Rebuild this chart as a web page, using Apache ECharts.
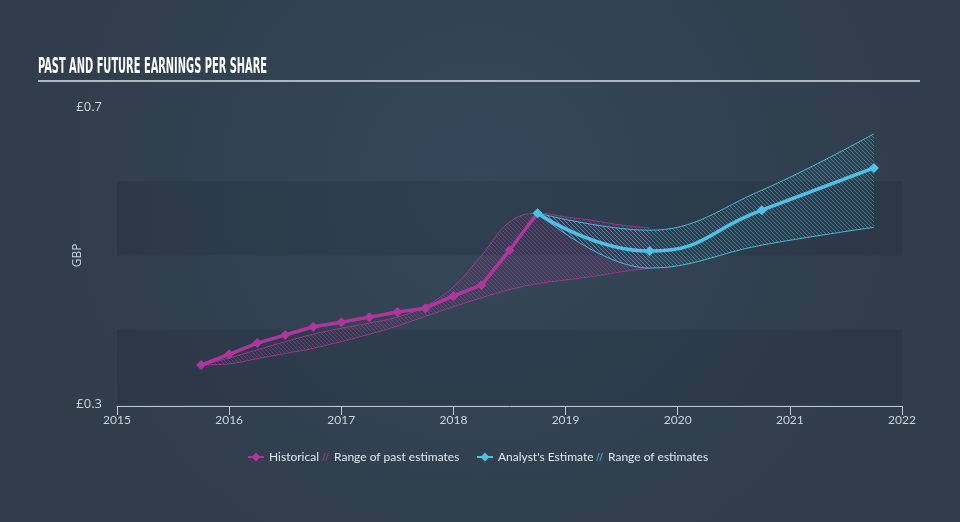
<!DOCTYPE html>
<html>
<head>
<meta charset="utf-8">
<script src="https://cdn.jsdelivr.net/npm/echarts@6/dist/echarts.min.js"></script>
<style>html,body{margin:0;padding:0;background:#334353;}#c{width:960px;height:522px;}</style>
</head>
<body>
<div id="c"></div>
<script>
// ---- data ----
const histTimes  = [2015.75, 2016.0, 2016.25, 2016.5, 2016.75, 2017.0, 2017.25, 2017.5, 2017.75, 2018.0, 2018.25, 2018.5, 2018.75];
const histValues = [0.3525, 0.367, 0.382, 0.393, 0.404, 0.410, 0.417, 0.424, 0.429, 0.4455, 0.460, 0.507, 0.557];

const pastRangeTimes = [2015.75, 2016.0, 2016.25, 2016.5, 2016.75, 2017.0, 2017.25, 2017.5, 2017.75, 2018.0, 2018.25, 2018.5, 2018.75, 2019.0, 2019.25, 2019.5, 2019.75];
const pastRangeLow   = [0.3525, 0.354, 0.361, 0.368, 0.375, 0.384, 0.394, 0.405, 0.418, 0.431, 0.443, 0.454, 0.462, 0.467, 0.472, 0.478, 0.483];
const pastRangeHigh  = [0.3525, 0.362, 0.373, 0.384, 0.394, 0.402, 0.409, 0.417, 0.432, 0.458, 0.500, 0.545, 0.557, 0.552, 0.547, 0.541, 0.537];

const estTimes  = [2018.75, 2019.75, 2020.75, 2021.75];
const estValues = [0.557, 0.506, 0.561, 0.618];
const estLow    = [0.557, 0.483, 0.514, 0.538];
const estHigh   = [0.557, 0.534, 0.588, 0.664];

const xTickYears = ['2015', '2016', '2017', '2018', '2019', '2020', '2021', '2022'];
const yTickLabels = ['£0.3', '£0.7'];

// quarterly category axis 2015.00 .. 2022.00
const quarters = [];
for (let y = 2015; y <= 2022; y++) {
  ['00', '25', '50', '75'].forEach(q => { if (!(y === 2022 && q !== '00')) quarters.push(y + '.' + q); });
}

// ---- helpers ----
const PINK = '#b0369c';
const BLUE = '#4ec2e6';
function hatch(color) {
  const c = document.createElement('canvas');
  c.width = 4; c.height = 4;
  const g = c.getContext('2d');
  g.strokeStyle = color; g.lineWidth = 1;
  g.beginPath();
  g.moveTo(-1, -1); g.lineTo(5, 5);
  g.moveTo(-1, 3); g.lineTo(1, 5);
  g.moveTo(3, -1); g.lineTo(5, 1);
  g.stroke();
  return { image: c, repeat: 'repeat' };
}
const key = t => t.toFixed(2);
const pair = (ts, vs) => ts.map((t, i) => [key(t), vs[i]]);
const diff = (ts, lo, hi) => ts.map((t, i) => [key(t), +(hi[i] - lo[i]).toFixed(5)]);
const isYear = idx => quarters[idx] && quarters[idx].endsWith('.00');

const titleText = 'PAST AND FUTURE EARNINGS PER SHARE';
const titleFont = 'bold 21px "DejaVu Sans Condensed", "DejaVu Sans", sans-serif';
const mc = document.createElement('canvas').getContext('2d');
mc.font = titleFont;
const titleScale = 229 / mc.measureText(titleText).width;

const chart = echarts.init(document.getElementById('c'), null, { renderer: 'canvas' });
const hatchIcon = 'path://M0,8 L2.6,0 L3.8,0 L1.2,8 Z M3.2,8 L5.8,0 L7,0 L4.4,8 Z';
const legendText = { color: '#e2e7ee', fontFamily: 'Lato', fontSize: 12 };

chart.setOption({
  animation: false,
  backgroundColor: {
    type: 'radial', x: 0.5, y: 0.35, r: 0.8,
    colorStops: [{ offset: 0, color: '#354759' }, { offset: 1, color: '#303e4c' }]
  },
  graphic: [
    { type: 'text', left: 38, top: 57, scaleX: titleScale,
      style: { text: titleText, font: titleFont, fill: '#ffffff' } },
    { type: 'line', shape: { x1: 38, y1: 81, x2: 920, y2: 81 },
      style: { stroke: '#aeb6bf', lineWidth: 2 } }
  ],
  grid: { left: 117, right: 58, top: 107, bottom: 118 },
  legend: [
    { left: 247, top: 451, padding: 0, itemWidth: 16, itemHeight: 11, textStyle: legendText,
      data: [{ name: 'Historical' }], selectedMode: false },
    { left: 322, top: 451, padding: 0, itemWidth: 7, itemHeight: 8, textStyle: legendText,
      data: [{ name: 'Range of past estimates', icon: hatchIcon, itemStyle: { color: PINK, opacity: 0.7 } }],
      selectedMode: false },
    { left: 476, top: 451, padding: 0, itemWidth: 16, itemHeight: 11, textStyle: legendText,
      data: [{ name: "Analyst's Estimate" }], selectedMode: false },
    { left: 596, top: 451, padding: 0, itemWidth: 7, itemHeight: 8, textStyle: legendText,
      data: [{ name: 'Range of estimates', icon: hatchIcon, itemStyle: { color: BLUE, opacity: 0.7 } }],
      selectedMode: false }
  ],
  xAxis: {
    type: 'category', data: quarters, boundaryGap: false, offset: 2,
    axisLine: { show: true, lineStyle: { color: '#c3ccd6', width: 1 } },
    axisTick: { show: true, length: 9, interval: idx => isYear(idx), lineStyle: { color: '#c3ccd6' } },
    axisLabel: { color: '#cdd4dc', fontFamily: 'Lato', fontSize: 12, margin: 8,
      interval: idx => isYear(idx),
      formatter: v => { const y = v.slice(0, 4); return v.endsWith('.00') && xTickYears.includes(y) ? y : ''; } },
    splitLine: { show: false }
  },
  yAxis: {
    type: 'value', min: 0.3, max: 0.7, interval: 0.1,
    name: 'GBP', nameLocation: 'middle', nameRotate: 90, nameGap: 33, nameMoveOverlap: false,
    nameTextStyle: { color: '#cdd4dc', fontFamily: 'Open Sans', fontSize: 12 },
    axisLine: { show: false }, axisTick: { show: false },
    axisLabel: { color: '#cdd4dc', fontFamily: 'Open Sans', fontSize: 13, margin: 15,
      formatter: v => {
        const r = Math.round(v * 10) / 10;
        const s = '£' + r.toFixed(1);
        return yTickLabels.includes(s) ? s : '';
      } },
    splitLine: { show: false },
    splitArea: { show: true, areaStyle: { color: ['rgba(20,30,42,0.16)', 'rgba(0,0,0,0)'] } }
  },
  series: [
    { name: 'pastLow', type: 'line', stack: 'past', smooth: 0.4, symbol: 'none', z: 1,
      data: pair(pastRangeTimes, pastRangeLow),
      lineStyle: { color: PINK, width: 1, opacity: 0.8 } },
    { name: 'Range of past estimates', type: 'line', stack: 'past', smooth: 0.4, symbol: 'none', z: 1,
      data: diff(pastRangeTimes, pastRangeLow, pastRangeHigh),
      itemStyle: { color: PINK },
      lineStyle: { color: PINK, width: 1, opacity: 0.8 },
      areaStyle: { color: hatch('rgba(176,54,156,0.6)'), opacity: 1 } },
    { name: 'estLow', type: 'line', stack: 'est', smooth: 0.4, symbol: 'none', z: 2,
      data: pair(estTimes, estLow),
      lineStyle: { color: BLUE, width: 1, opacity: 0.9 } },
    { name: 'Range of estimates', type: 'line', stack: 'est', smooth: 0.4, symbol: 'none', z: 2,
      data: diff(estTimes, estLow, estHigh),
      itemStyle: { color: BLUE },
      lineStyle: { color: BLUE, width: 1, opacity: 0.9 },
      areaStyle: { color: hatch('rgba(78,194,230,0.5)'), opacity: 1 } },
    { name: 'Historical', type: 'line', smooth: false, z: 3,
      data: pair(histTimes, histValues),
      symbol: 'diamond', symbolSize: 10,
      itemStyle: { color: PINK },
      lineStyle: { color: PINK, width: 3.5 } },
    { name: "Analyst's Estimate", type: 'line', smooth: 0.5, z: 4,
      data: pair(estTimes, estValues),
      symbol: 'diamond', symbolSize: 10,
      itemStyle: { color: BLUE },
      lineStyle: { color: BLUE, width: 3.5 } }
  ]
});
</script>
</body>
</html>
